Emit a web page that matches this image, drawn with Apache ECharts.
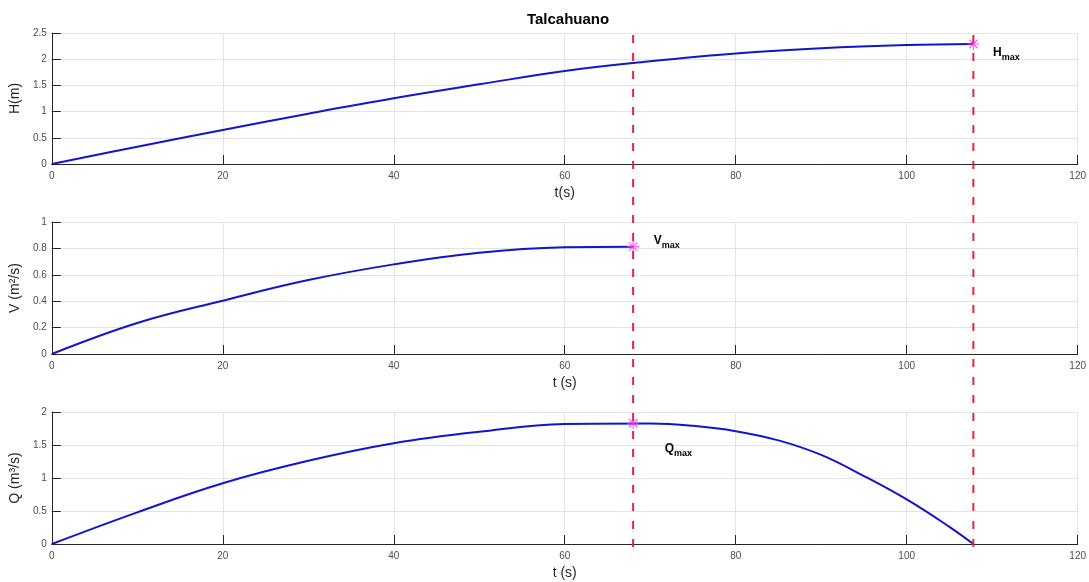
<!DOCTYPE html>
<html>
<head>
<meta charset="utf-8">
<script src="https://cdn.jsdelivr.net/npm/echarts@6/dist/echarts.min.js"></script>
<style>
html,body{margin:0;padding:0;background:#fff;}
#c{width:1089px;height:582px;}
</style>
</head>
<body>
<div id="c"></div>
<script>
// ---- data ----
const titleText = 'Talcahuano';
const tH = [0, 10, 20, 30, 40, 50, 60, 70, 80, 90, 100, 107.8];
const H  = [0, 0.33, 0.65, 0.96, 1.254, 1.52, 1.775, 1.96, 2.11, 2.21, 2.27, 2.29];
const tV = [0, 10, 20, 30, 40, 50, 60, 68];
const V  = [0, 0.235, 0.404, 0.56, 0.679, 0.767, 0.808, 0.813];
const tQ = [0, 10, 20, 30, 40, 50, 60, 70, 75, 80, 85, 90, 95, 100, 105, 107.8];
const Q  = [0, 0.48, 0.92, 1.26, 1.526, 1.70, 1.818, 1.825, 1.79, 1.71, 1.57, 1.35, 1.03, 0.675, 0.26, 0];
const tVmax = 68, tHmax = 107.8;
const Hmax = 2.29, Vmax = 0.813, Qmax = 1.83;
const yNames = ['H(m)', 'V (m\u00b2/s)', 'Q (m\u00b3/s)'];
const xNames = ['t(s)', 't (s)', 't (s)'];
const yRanges = [[0, 2.5, 0.5], [0, 1, 0.2], [0, 2, 0.5]];
// annotation anchor points (data coords, left-middle of main letter)
const annot = [
  {grid: 0, letter: 'H', t: 110.1, y: 2.12},
  {grid: 1, letter: 'V', t: 70.4, y: 0.86},
  {grid: 2, letter: 'Q', t: 71.7, y: 1.44}
];

const FONT = 'Liberation Sans, Arial, Helvetica, sans-serif';
const chart = echarts.init(document.getElementById('c'), null, {renderer: 'canvas'});

const grids = [
  {left: 49, right: 11, top: 33, height: 131},
  {left: 49, right: 11, top: 222, height: 132},
  {left: 49, right: 11, top: 412, height: 132}
];

function zip(a, b){ return a.map((v, i) => [v, b[i]]); }

const xAxes = grids.map((g, i) => ({
  type: 'value', gridIndex: i, min: 0, max: 120, interval: 20,
  name: xNames[i], nameLocation: 'middle', nameGap: 22,
  nameTextStyle: {fontFamily: FONT, fontSize: 14, color: '#262626'},
  axisLine: {lineStyle: {color: '#262626', width: 1}},
  axisTick: {show: true, inside: true, length: 9, lineStyle: {color: '#262626'}},
  axisLabel: {fontFamily: FONT, fontSize: 10, color: '#4d4d4d', margin: 7},
  splitLine: {show: true, lineStyle: {color: '#e3e3e3', width: 1}}
}));

const yAxes = grids.map((g, i) => ({
  type: 'value', gridIndex: i, min: yRanges[i][0], max: yRanges[i][1], interval: yRanges[i][2],
  name: yNames[i], nameLocation: 'middle', nameGap: 17, nameRotate: 90,
  nameTextStyle: {fontFamily: FONT, fontSize: 14, color: '#262626'},
  axisLine: {show: true, lineStyle: {color: '#262626', width: 1}},
  axisTick: {show: true, inside: true, length: 9, lineStyle: {color: '#262626'}},
  axisLabel: {fontFamily: FONT, fontSize: 10, color: '#4d4d4d', margin: 5},
  splitLine: {show: true, lineStyle: {color: '#e3e3e3', width: 1}}
}));

const lineStyle = {color: '#1414cc', width: 2};
const starPath = 'path://M0,-10L0,10M-10,0L10,0M-7.07,-7.07L7.07,7.07M-7.07,7.07L7.07,-7.07';
function starSeries(i, x, y){
  return {
    type: 'scatter', xAxisIndex: i, yAxisIndex: i, data: [[x, y]],
    symbol: starPath, symbolSize: 12, z: 5,
    itemStyle: {color: 'rgba(0,0,0,0)', borderColor: '#ff33ff', borderWidth: 1.2},
    silent: true
  };
}

chart.setOption({
  animation: false,
  title: {text: titleText, left: 563, textAlign: 'center', top: 7,
    textStyle: {fontFamily: FONT, fontSize: 15, fontWeight: 'bold', color: '#000'}},
  grid: grids,
  xAxis: xAxes,
  yAxis: yAxes,
  series: [
    {type: 'line', xAxisIndex: 0, yAxisIndex: 0, data: zip(tH, H), showSymbol: false, smooth: 0.4, lineStyle: lineStyle, z: 3},
    {type: 'line', xAxisIndex: 1, yAxisIndex: 1, data: zip(tV, V), showSymbol: false, smooth: 0.4, lineStyle: lineStyle, z: 3},
    {type: 'line', xAxisIndex: 2, yAxisIndex: 2, data: zip(tQ, Q), showSymbol: false, smooth: 0.4, lineStyle: lineStyle, z: 3},
    starSeries(0, tHmax, Hmax),
    starSeries(1, tVmax, Vmax),
    starSeries(2, tVmax, Qmax)
  ]
});

// dashed vertical markers spanning all panels + subscript annotations
const graphics = [];
[tVmax, tHmax].forEach(t => {
  const top = chart.convertToPixel({gridIndex: 0}, [t, yRanges[0][1]]);
  const bot = chart.convertToPixel({gridIndex: 2}, [t, yRanges[2][0]]);
  graphics.push({
    type: 'line', z: 10, silent: true,
    shape: {x1: top[0], y1: top[1] + 2, x2: bot[0], y2: bot[1] + 6},
    style: {stroke: '#e3263a', lineWidth: 2, lineDash: [8, 10]}
  });
});
annot.forEach(a => {
  const p = chart.convertToPixel({gridIndex: a.grid}, [a.t, a.y]);
  graphics.push({
    type: 'text', z: 11, silent: true, x: p[0], y: p[1],
    style: {
      text: '{m|' + a.letter + '}{s|max}',
      verticalAlign: 'middle', align: 'left',
      rich: {
        m: {fontFamily: FONT, fontSize: 12, fontWeight: 'bold', fill: '#000', color: '#000'},
        s: {fontFamily: FONT, fontSize: 9, fontWeight: 'bold', fill: '#000', color: '#000', padding: [10, 0, 0, 0]}
      }
    }
  });
});
chart.setOption({graphic: graphics});
</script>
</body>
</html>
